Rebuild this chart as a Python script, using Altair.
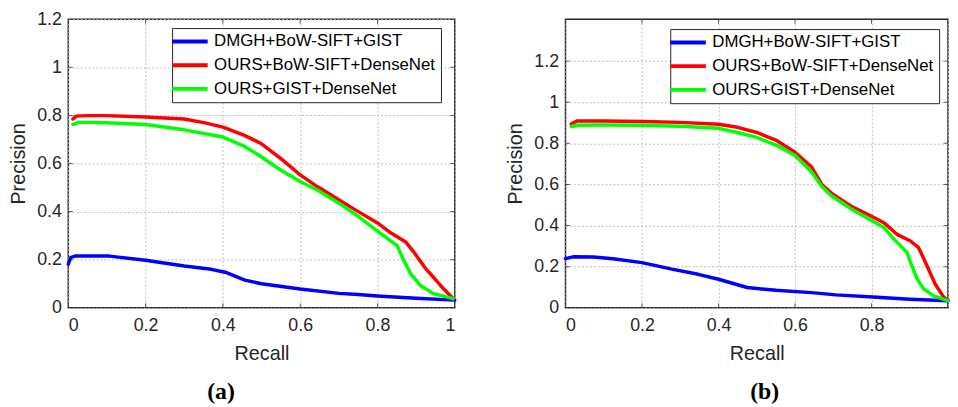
import altair as alt
import pandas as pd

series_names = ["DMGH+BoW-SIFT+GIST", "OURS+BoW-SIFT+DenseNet", "OURS+GIST+DenseNet"]
series_colors = ["#0000ff", "#ff0000", "#00ff00"]

# ---- panel (a) ----
a_blue_r = [0.0, 0.006, 0.017, 0.06, 0.106, 0.2, 0.3, 0.37, 0.406, 0.457, 0.5, 0.6, 0.7, 0.75, 0.8, 0.9, 1.0]
a_blue_p = [0.181, 0.209, 0.215, 0.216, 0.215, 0.198, 0.174, 0.16, 0.148, 0.115, 0.1, 0.078, 0.06, 0.055, 0.049, 0.04, 0.032]
a_red_r = [0.012, 0.02, 0.05, 0.1, 0.2, 0.3, 0.354, 0.4, 0.456, 0.5, 0.55, 0.6, 0.644, 0.7, 0.749, 0.8, 0.834, 0.873, 0.898, 0.924, 0.945, 0.971, 0.996]
a_red_p = [0.785, 0.797, 0.799, 0.799, 0.793, 0.785, 0.769, 0.751, 0.717, 0.682, 0.62, 0.553, 0.504, 0.449, 0.401, 0.353, 0.312, 0.274, 0.223, 0.164, 0.127, 0.079, 0.038]
a_green_r = [0.012, 0.025, 0.06, 0.1, 0.2, 0.3, 0.4, 0.456, 0.5, 0.55, 0.6, 0.644, 0.7, 0.749, 0.8, 0.834, 0.851, 0.868, 0.886, 0.911, 0.945, 0.996]
a_green_p = [0.762, 0.771, 0.771, 0.769, 0.762, 0.74, 0.71, 0.671, 0.627, 0.572, 0.525, 0.49, 0.435, 0.381, 0.319, 0.278, 0.258, 0.196, 0.141, 0.093, 0.059, 0.038]

# ---- panel (b) ----
b_blue_r = [0.0, 0.02, 0.073, 0.124, 0.2, 0.278, 0.347, 0.4, 0.475, 0.55, 0.643, 0.707, 0.804, 0.9, 1.0]
b_blue_p = [0.239, 0.248, 0.247, 0.239, 0.22, 0.188, 0.163, 0.139, 0.099, 0.085, 0.074, 0.063, 0.053, 0.042, 0.034]
b_red_r = [0.015, 0.03, 0.1, 0.2, 0.3, 0.4, 0.45, 0.5, 0.553, 0.6, 0.643, 0.67, 0.695, 0.747, 0.804, 0.833, 0.867, 0.902, 0.923, 0.945, 0.966, 0.988, 1.0]
b_red_p = [0.894, 0.909, 0.909, 0.906, 0.902, 0.893, 0.878, 0.853, 0.813, 0.757, 0.686, 0.6, 0.558, 0.494, 0.442, 0.413, 0.357, 0.325, 0.293, 0.205, 0.117, 0.053, 0.037]
b_green_r = [0.015, 0.03, 0.1, 0.2, 0.3, 0.4, 0.45, 0.5, 0.553, 0.6, 0.643, 0.67, 0.695, 0.747, 0.804, 0.833, 0.859, 0.893, 0.902, 0.919, 0.936, 0.962, 0.988, 1.0]
b_green_p = [0.881, 0.888, 0.889, 0.888, 0.883, 0.873, 0.853, 0.829, 0.789, 0.741, 0.662, 0.59, 0.545, 0.481, 0.421, 0.389, 0.333, 0.269, 0.221, 0.141, 0.093, 0.058, 0.042, 0.035]

x_tick_values = [0, 0.2, 0.4, 0.6, 0.8, 1.0]
a_y_tick_values = [0, 0.2, 0.4, 0.6, 0.8, 1.0, 1.2]
b_y_tick_values = [0, 0.2, 0.4, 0.6, 0.8, 1.0, 1.2]

FONT = "Liberation Sans"
INK = "#262626"


def make_df(parts):
    rows = []
    for name, rs, ps in parts:
        for r, p in zip(rs, ps):
            rows.append({"series": name, "recall": r, "precision": p})
    return pd.DataFrame(rows)


def panel(df, ymax, yticks, width, caption, caption_dx, lx, ly, x_label_expr):
    xs = alt.Scale(domain=[0, 1], nice=False, zero=False)
    ys = alt.Scale(domain=[0, ymax], nice=False, zero=False)
    xa = alt.Axis(values=x_tick_values, title="Recall", format="~g", labelExpr=x_label_expr)
    ya = alt.Axis(values=yticks, title="Precision", format="~g")
    X = alt.X("recall:Q", scale=xs, axis=xa)
    Y = alt.Y("precision:Q", scale=ys, axis=ya)

    xt = pd.DataFrame({"recall": x_tick_values})
    yt = pd.DataFrame({"precision": yticks})

    lines = alt.Chart(df).mark_line(strokeWidth=3.5, strokeJoin="round", strokeCap="round").encode(
        x=X, y=Y,
        color=alt.Color(
            "series:N",
            scale=alt.Scale(domain=series_names, range=series_colors),
            legend=alt.Legend(
                title=None, orient="none", legendX=lx, legendY=ly, direction="vertical",
                symbolType="M-4,0H4", symbolSize=81, symbolStrokeWidth=4,
                symbolOffset=4.5, labelOffset=16,
                labelFont=FONT, labelFontSize=17, labelColor="#000000", labelLimit=0,
                strokeColor=INK, fillColor="white", padding=5, rowPadding=6, cornerRadius=0,
            ),
        ),
    )
    tick_style = dict(clip=True, size=9, thickness=1, color=INK)
    tick_bottom = alt.Chart(xt).transform_calculate(precision="0").mark_tick(
        orient="vertical", **tick_style).encode(x=X, y=Y)
    tick_top = alt.Chart(xt).transform_calculate(precision=str(ymax)).mark_tick(
        orient="vertical", **tick_style).encode(x=X, y=Y)
    tick_left = alt.Chart(yt).transform_calculate(recall="0").mark_tick(
        orient="horizontal", **tick_style).encode(x=X, y=Y)
    tick_right = alt.Chart(yt).transform_calculate(recall="1").mark_tick(
        orient="horizontal", **tick_style).encode(x=X, y=Y)

    return alt.layer(lines, tick_bottom, tick_top, tick_left, tick_right).properties(
        width=width, height=292,
        title=alt.TitleParams(caption, orient="bottom", anchor="middle", frame="group", dx=caption_dx,
                              font="Liberation Serif", fontSize=24, fontWeight="bold", color="#000000", offset=17),
    )


df_a = make_df([(series_names[0], a_blue_r, a_blue_p),
                (series_names[1], a_red_r, a_red_p),
                (series_names[2], a_green_r, a_green_p)])
df_b = make_df([(series_names[0], b_blue_r, b_blue_p),
                (series_names[1], b_red_r, b_red_p),
                (series_names[2], b_green_r, b_green_p)])

pa = panel(df_a, 1.2, a_y_tick_values, 391, "(a)", -41, 105, 9, "datum.label")
# the right end of panel (b) is cropped at the picture edge in the reference, so its "1" is not shown
pb = panel(df_b, 1.404, b_y_tick_values, 387, "(b)", 8, 106, 10, "datum.value >= 1 ? '' : datum.label")

chart = alt.hconcat(pa, pb, spacing=112, bounds="flush").resolve_legend(color="independent").properties(
    padding={"left": 0, "top": -1, "right": -1, "bottom": -2},
).configure_view(
    stroke=INK, strokeWidth=1.5
).configure_axis(
    labelFont=FONT, labelFontSize=18, labelColor=INK,
    titleFont=FONT, titleFontSize=20, titleColor=INK, titleFontWeight="normal",
    grid=True, gridColor="#bdbdbd", gridDash=[2, 2], gridWidth=1,
    ticks=False, tickSize=0, domain=False,
).configure_axisX(titlePadding=9, labelPadding=9).configure_axisY(titlePadding=8, labelPadding=7)

chart.save("out.html", embed_options={"renderer": "svg", "actions": False})
